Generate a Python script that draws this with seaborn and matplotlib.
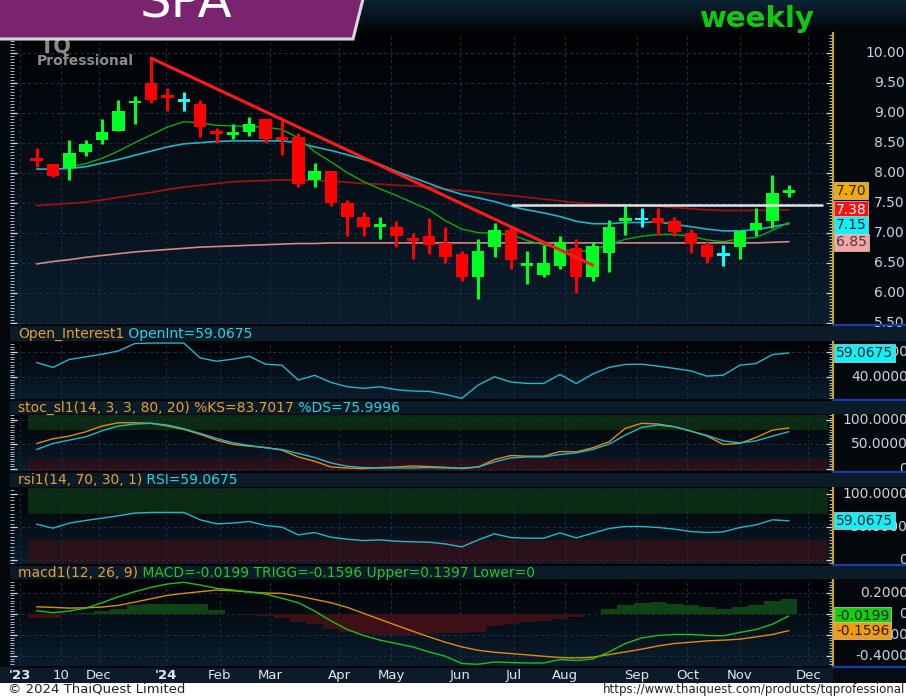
import numpy as np
import pandas as pd
import matplotlib
matplotlib.use('Agg')
import matplotlib.pyplot as plt
import matplotlib.transforms as mtransforms
import seaborn as sns
from matplotlib.patches import Rectangle, Polygon
from matplotlib.lines import Line2D
from matplotlib.ticker import MultipleLocator
from matplotlib.colors import LinearSegmentedColormap

# ---- data ----
opens = [8.23, 8.14, 8.07, 8.34, 8.545, 8.70, 9.17, 9.50, 9.28, 9.20, 9.145, 8.68, 8.63, 8.68, 8.89, 8.60,
         8.60, 7.88, 8.02, 7.49, 7.26, 7.11, 7.10, 6.91, 6.945, 6.83, 6.645, 6.26, 6.76, 7.045, 6.46, 6.295,
         6.45, 6.75, 6.26, 6.66, 7.21, 7.23, 7.25, 7.20, 7.00, 6.795, 6.64, 6.755, 7.045, 7.20, 7.68]
highs = [8.41, 8.14, 8.545, 8.545, 8.89, 9.21, 9.28, 9.91, 9.41, 9.35, 9.21, 8.74, 8.81, 8.93, 8.89, 8.91,
         8.66, 8.16, 8.02, 7.545, 7.35, 7.26, 7.20, 6.99, 7.25, 7.10, 6.70, 6.89, 7.155, 7.10, 6.70, 6.795,
         6.945, 6.89, 6.85, 7.21, 7.445, 7.41, 7.41, 7.26, 7.06, 6.85, 6.795, 7.03, 7.41, 7.96, 7.80]
lows = [8.10, 7.93, 7.88, 8.28, 8.48, 8.70, 8.81, 9.16, 9.02, 9.02, 8.60, 8.49, 8.56, 8.61, 8.50, 8.295,
        7.76, 7.76, 7.445, 6.945, 6.945, 6.895, 6.755, 6.56, 6.65, 6.50, 6.20, 5.89, 6.60, 6.39, 6.145, 6.26,
        6.39, 6.00, 6.20, 6.345, 6.96, 7.10, 6.96, 6.945, 6.66, 6.50, 6.445, 6.555, 6.945, 7.075, 7.60]
closes = [8.20, 7.94, 8.33, 8.47, 8.68, 9.02, 9.19, 9.21, 9.25, 9.20, 8.755, 8.65, 8.68, 8.81, 8.56, 8.55,
          7.81, 8.02, 7.50, 7.26, 7.10, 7.14, 6.95, 6.86, 6.80, 6.60, 6.26, 6.70, 7.045, 6.545, 6.49, 6.49,
          6.84, 6.26, 6.78, 7.10, 7.24, 7.23, 7.155, 7.005, 6.81, 6.60, 6.64, 7.03, 7.155, 7.655, 7.70]

ma_fast = [8.10, 8.15, 8.24, 8.36, 8.50, 8.63, 8.76, 8.85, 8.83, 8.79, 8.78, 8.77, 8.76, 8.72, 8.58,
           8.35, 8.18, 8.00, 7.85, 7.73, 7.62, 7.50, 7.38, 7.20, 7.06, 7.00, 6.99, 6.97, 6.87, 6.80,
           6.73, 6.68, 6.71, 6.80, 6.89, 6.94, 6.97, 6.97, 6.94, 6.88, 6.85, 6.90, 6.92, 7.04, 7.17]
ma_mid = [8.06, 8.06, 8.07, 8.10, 8.16, 8.22, 8.29, 8.36, 8.43, 8.48, 8.50, 8.52, 8.53, 8.53, 8.53, 8.53,
          8.50, 8.43, 8.37, 8.30, 8.22, 8.14, 8.02, 7.92, 7.82, 7.72, 7.64, 7.58, 7.52, 7.44, 7.38, 7.33,
          7.27, 7.19, 7.15, 7.15, 7.17, 7.17, 7.18, 7.14, 7.10, 7.06, 7.03, 7.03, 7.05, 7.10, 7.15]
ma_slow = [7.45, 7.47, 7.49, 7.51, 7.545, 7.59, 7.63, 7.67, 7.72, 7.76, 7.79, 7.82, 7.85, 7.86, 7.87, 7.88,
           7.88, 7.87, 7.86, 7.84, 7.82, 7.81, 7.79, 7.78, 7.76, 7.73, 7.70, 7.68, 7.645, 7.62, 7.59, 7.56,
           7.53, 7.50, 7.48, 7.47, 7.46, 7.45, 7.44, 7.42, 7.40, 7.38, 7.37, 7.37, 7.37, 7.38, 7.38]
ma_long = [6.48, 6.52, 6.55, 6.59, 6.62, 6.65, 6.68, 6.70, 6.72, 6.74, 6.76, 6.77, 6.78, 6.79, 6.80, 6.81,
           6.82, 6.82, 6.83, 6.83, 6.83, 6.83, 6.83, 6.83, 6.83, 6.83, 6.83, 6.83, 6.83, 6.83, 6.83, 6.83,
           6.83, 6.83, 6.83, 6.83, 6.83, 6.83, 6.83, 6.83, 6.83, 6.83, 6.83, 6.83, 6.83, 6.84, 6.85]

trend_x = [7, 34]
trend_y = [9.91, 6.46]
resist_x = [29.1, 48.0]
resist_y = [7.455, 7.455]

open_int = [51.6, 47.8, 54.0, 56.0, 58.1, 60.6, 66.4, 66.8, 66.8, 66.8, 55.2, 52.6, 54.2, 56.5, 50.3, 49.5,
            37.9, 41.6, 36.1, 32.7, 31.5, 32.7, 30.4, 29.4, 29.1, 26.8, 23.7, 34.0, 40.5, 36.4, 35.3, 35.3,
            42.3, 35.3, 42.6, 47.8, 50.1, 50.3, 48.8, 47.0, 45.1, 41.0, 41.8, 49.5, 50.9, 57.8, 59.07]
stoch_k = [51.8, 61.3, 66.9, 75.8, 87.6, 94.4, 94.4, 93.2, 87.6, 80.7, 70.4, 58.6, 49.7, 46.2, 43.5, 37.9,
           24.0, 15.1, 3.3, 1.2, 0.0, 2.1, 3.3, 5.4, 4.1, 2.7, 0.0, 3.3, 18.6, 26.9, 25.5, 25.5, 35.2, 34.4,
           42.7, 55.1, 82.8, 93.2, 91.7, 86.1, 77.2, 66.9, 49.7, 51.8, 64.2, 79.3, 83.7]
stoch_d = [39.3, 51.8, 58.6, 65.4, 77.8, 87.6, 91.7, 93.2, 89.6, 82.0, 72.5, 62.1, 53.0, 47.6, 42.7, 39.3,
           31.1, 22.8, 11.6, 4.8, 2.1, 1.2, 1.2, 1.2, 2.1, 1.2, 1.2, 3.3, 13.7, 22.0, 24.0, 24.0, 29.0, 32.3,
           39.3, 50.3, 68.9, 84.9, 89.6, 86.1, 77.2, 68.3, 57.1, 53.0, 57.1, 66.9, 76.0]
rsi = [54.0, 48.0, 55.6, 59.6, 63.1, 66.7, 70.7, 71.7, 71.7, 71.7, 60.6, 54.5, 55.6, 58.1, 52.0, 49.5,
       37.9, 41.4, 34.3, 31.3, 29.3, 30.3, 28.3, 27.3, 26.8, 24.2, 19.7, 30.3, 39.4, 33.8, 32.8, 32.8,
       40.9, 33.3, 40.4, 47.5, 50.5, 50.5, 49.0, 46.5, 42.9, 41.4, 42.4, 49.0, 53.0, 60.6, 59.07]
macd = [0.029, 0.010, 0.026, 0.054, 0.105, 0.162, 0.210, 0.251, 0.283, 0.299, 0.273, 0.242, 0.226, 0.207,
        0.188, 0.147, 0.105, 0.026, -0.067, -0.149, -0.206, -0.250, -0.282, -0.314, -0.362, -0.403,
        -0.472, -0.479, -0.457, -0.463, -0.467, -0.467, -0.434, -0.444, -0.429, -0.362, -0.282, -0.229,
        -0.206, -0.196, -0.196, -0.206, -0.209, -0.177, -0.149, -0.098, -0.0199]
trigg = [0.067, 0.061, 0.054, 0.057, 0.064, 0.080, 0.111, 0.143, 0.175, 0.194, 0.210, 0.226, 0.219, 0.207,
         0.197, 0.194, 0.169, 0.137, 0.105, 0.061, 0.004, -0.053, -0.110, -0.165, -0.219, -0.270, -0.314,
         -0.346, -0.365, -0.377, -0.390, -0.403, -0.415, -0.419, -0.412, -0.387, -0.362, -0.336, -0.305,
         -0.282, -0.270, -0.257, -0.250, -0.241, -0.219, -0.196, -0.1596]
macd_hist = [-0.04, -0.04, 0.0, 0.01, 0.03, 0.05, 0.08, 0.09, 0.09, 0.09, 0.09, 0.04, 0.0, -0.01, -0.02,
             -0.04, -0.08, -0.10, -0.14, -0.17, -0.19, -0.20, -0.20, -0.20, -0.19, -0.18, -0.18, -0.17,
             -0.12, -0.10, -0.08, -0.07, -0.05, -0.03, 0.0, 0.05, 0.08, 0.10, 0.11, 0.09, 0.08, 0.06, 0.05,
             0.06, 0.08, 0.12, 0.14]

month_pos = [-1.0, 1.5, 3.8, 7.9, 11.2, 14.3, 18.5, 21.7, 25.9, 29.2, 32.3, 36.7, 39.8, 43.0, 47.2]
month_labels = ["'23", "10", "Dec", "'24", "Feb", "Mar", "Apr", "May", "Jun", "Jul", "Aug", "Sep", "Oct",
                "Nov", "Dec"]

weeks = np.arange(len(closes))
df = pd.DataFrame({'week': weeks, 'mid': ma_mid, 'slow': ma_slow, 'long': ma_long,
                   'oi': open_int, 'k': stoch_k, 'd': stoch_d, 'rsi': rsi, 'macd': macd, 'trigg': trigg})
df_fast = pd.DataFrame({'week': weeks[2:], 'fast': ma_fast})

# ---- style ----
sns.set_theme(style='dark')
plt.rcParams['font.family'] = ['DejaVu Sans']
plt.rcParams['axes.unicode_minus'] = False

W, H = 906, 696
fig = plt.figure(figsize=(9.06, 6.96), dpi=100)
fig.patch.set_facecolor('#03080d')


def box(l, t, r, b):
    return [l / W, 1 - b / H, (r - l) / W, (b - t) / H]


def shade(rect, top, bottom, z=0):
    bg = fig.add_axes(rect, zorder=z)
    cmap = LinearSegmentedColormap.from_list('g', [top, bottom])
    bg.imshow(np.linspace(0, 1, 64).reshape(-1, 1), cmap=cmap, aspect='auto', extent=[0, 1, 0, 1])
    bg.axis('off')
    return bg


def fig_rect(l, t, r, b, color, z=0.5):
    fig.add_artist(Rectangle((l / W, 1 - b / H), (r - l) / W, (b - t) / H, transform=fig.transFigure,
                             facecolor=color, edgecolor='none', zorder=z))


XL, XR = 10, 833
panels = {'price': (33, 325), 'oi': (342, 400), 'st': (415, 472), 'rsi': (488, 565), 'macd': (580, 667)}

# top band
shade(box(0, 0, W, 33), '#0a2436', '#010305')
# header strips
for t, b in [(326, 341), (401, 414), (473, 487), (566, 579)]:
    fig_rect(XL, t, W, b, '#0b1b28')
# x-axis strip and footer
fig_rect(0, 667, XR, 683, '#0b1b2a')
fig_rect(XR, 667, W, 683, '#050c14')
fig_rect(0, 683, W, H, '#ffffff')

axes = {}
for name, (t, b) in panels.items():
    shade(box(XL, t, XR, b), '#000204', '#0b1d2d', z=0)
    ax = fig.add_axes(box(XL, t, XR, b), zorder=1)
    ax.patch.set_alpha(0)
    axes[name] = ax
    fig.add_artist(Line2D([XR / W, 1], [1 - b / H, 1 - b / H], transform=fig.transFigure,
                          color='#1a3cb0', lw=1.6, zorder=2))


def style_axis(ax, ylim, major, minor, labels, right_px=908):
    ax.set_xlim(-1.63, 48.7)
    ax.set_ylim(*ylim)
    ax.set_xticks(month_pos)
    ax.set_yticks(major)
    ax.yaxis.set_minor_locator(MultipleLocator(minor))
    ax.set_xlabel('')
    ax.set_ylabel('')
    ax.grid(True, which='major', color='#17324a', ls=(0, (3, 3)), lw=0.7)
    ax.tick_params(axis='x', which='both', bottom=False, top=False, labelbottom=False, length=0)
    ax.tick_params(axis='y', which='both', left=True, right=True, direction='in',
                   labelleft=False, labelright=False)
    ax.tick_params(axis='y', which='major', length=5, width=0.9, color='#d0d8e0')
    ax.tick_params(axis='y', which='minor', length=3, width=0.7, color='#a8b6c4')
    for s in ['left', 'top']:
        ax.spines[s].set_visible(False)
    ax.spines['bottom'].set_color('#000000')
    ax.spines['right'].set_color('#c9a12c')
    ax.spines['right'].set_linewidth(1.6)
    tr = mtransforms.blended_transform_factory(ax.transAxes, ax.transData)
    for v, s in zip(major, labels):
        ax.text((right_px - XL) / (XR - XL), v, s, transform=tr, ha='right', va='center',
                color='#c9d3df', fontsize=10, clip_on=False)


def tag(ax, v, s, fc, tc):
    tr = mtransforms.blended_transform_factory(ax.transAxes, ax.transData)
    ax.text((836 - XL) / (XR - XL), v, s, transform=tr, ha='left', va='center', color=tc, fontsize=10,
            clip_on=False, zorder=6,
            bbox=dict(boxstyle='square,pad=0.12', fc=fc, ec='#d0d0d0', lw=0.5))


# ---- price panel ----
ax = axes['price']
sns.lineplot(data=df, x='week', y='long', ax=ax, color='#d08888', lw=1.2, zorder=2)
sns.lineplot(data=df, x='week', y='slow', ax=ax, color='#9c1010', lw=1.3, zorder=2)
sns.lineplot(data=df, x='week', y='mid', ax=ax, color='#22b4c4', lw=1.2, zorder=2)
sns.lineplot(data=df_fast, x='week', y='fast', ax=ax, color='#12a812', lw=1.0, zorder=2)

o = np.array(opens)
c = np.array(closes)
cols = np.where(c > o, '#00ff22', np.where(c < o, '#ff0000', '#10ffff'))
ax.vlines(weeks, lows, highs, colors=cols, lw=2.2, zorder=3)
body_h = np.maximum(np.abs(c - o), 0.045)
ax.bar(weeks, body_h, bottom=(o + c) / 2 - body_h / 2, width=0.76, color=cols, edgecolor='none',
       linewidth=0, zorder=3)

sns.lineplot(x=trend_x, y=trend_y, ax=ax, color='#ff1a1a', lw=2.2, zorder=4)
sns.lineplot(x=resist_x, y=resist_y, ax=ax, color='#e4e4e4', lw=1.8, zorder=4)

price_ticks = [5.5, 6.0, 6.5, 7.0, 7.5, 8.0, 8.5, 9.0, 9.5, 10.0]
style_axis(ax, (5.462, 10.328), price_ticks, 0.05, ['%.2f' % v for v in price_ticks], right_px=905)
tag(ax, 7.70, '7.70', '#f2a900', '#202020')
tag(ax, 7.38, '7.38', '#ff1010', '#ffffff')
tag(ax, 7.13, '7.15', '#10f0f8', '#202020')
tag(ax, 6.84, '6.85', '#f4a4a4', '#404040')

# ---- open interest ----
ax = axes['oi']
sns.lineplot(data=df, x='week', y='oi', ax=ax, color='#22b8c8', lw=1.0)
style_axis(ax, (22.4, 67.6), [40, 60], 2, ['40.0000', '60.0000'])
tag(ax, 59.07, '59.0675', '#10f0f8', '#202020')

# ---- stochastic ----
ax = axes['st']
ax.axhspan(80, 115, xmin=0.022, xmax=0.994, color='#0b2a12', zorder=0.5, lw=0)
ax.axhspan(-10, 20, xmin=0.022, xmax=0.994, color='#2a1018', zorder=0.5, lw=0)
sns.lineplot(data=df, x='week', y='k', ax=ax, color='#e08a10', lw=1.0)
sns.lineplot(data=df, x='week', y='d', ax=ax, color='#22b8c8', lw=1.0)
style_axis(ax, (-7, 110.3), [0, 50, 100], 5, ['0', '50.0000', '100.0000'])

# ---- RSI ----
ax = axes['rsi']
ax.axhspan(70, 115, xmin=0.022, xmax=0.994, color='#0b2a12', zorder=0.5, lw=0)
ax.axhspan(-5, 30, xmin=0.022, xmax=0.994, color='#2a1018', zorder=0.5, lw=0)
sns.lineplot(data=df, x='week', y='rsi', ax=ax, color='#22b8c8', lw=1.0)
style_axis(ax, (-7.6, 108.6), [0, 50, 100], 5, ['0', '50.0000', '100.0000'])
tag(ax, 59.07, '59.0675', '#10f0f8', '#202020')

# ---- MACD ----
ax = axes['macd']
hist_cols = ['#0f4214' if h > 0 else '#3d1018' for h in macd_hist]
ax.bar(weeks, macd_hist, width=1.0, color=hist_cols, edgecolor='none', linewidth=0, zorder=1)
sns.lineplot(data=df, x='week', y='trigg', ax=ax, color='#e08a10', lw=1.0, zorder=3)
sns.lineplot(data=df, x='week', y='macd', ax=ax, color='#1cc01c', lw=1.0, zorder=3)
style_axis(ax, (-0.505, 0.321), [-0.4, -0.2, 0, 0.2], 0.025, ['-0.4000', '-0.2000', '0', '0.2000'])
tag(ax, -0.0199, '-0.0199', '#10d010', '#202020')
tag(ax, -0.1596, '-0.1596', '#f59a10', '#202020')

# month labels under the last panel, on the shared week scale
xtr = mtransforms.blended_transform_factory(ax.transData, ax.transAxes)
for pos, lab in zip(month_pos, month_labels):
    ax.text(pos, -8.5 / 87, lab, transform=xtr, ha='center', va='center', fontsize=9.5,
            color='#e0e8f0', fontweight='bold' if lab.startswith("'") else 'normal', clip_on=False)

# ---- texts ----
renderer = fig.canvas.get_renderer()


def header(y, parts):
    x = 18
    for s, col in parts:
        t = fig.text(x / W, 1 - y / H, s, color=col, fontsize=10, va='center', ha='left', zorder=11)
        x = t.get_window_extent(renderer=renderer).x1


ORG, CY, GR = '#e8a030', '#30d0e0', '#22c822'
header(334, [('Open_Interest1', ORG), (' OpenInt=59.0675', CY)])
header(408, [('stoc_sl1(14, 3, 3, 80, 20) %KS=83.7017', ORG), (' %DS=75.9996', CY)])
header(480, [('rsi1(14, 70, 30, 1)', ORG), (' RSI=59.0675', CY)])
header(573, [('macd1(12, 26, 9)', ORG), (' MACD=-0.0199 TRIGG=-0.1596 Upper=0.1397 Lower=0', GR)])

fig.text(757 / W, 1 - 19 / H, 'weekly', color='#12c712', fontsize=21, fontweight='bold',
         ha='center', va='center', zorder=11)

# logo
fig.text(40 / W, 1 - 47 / H, 'TQ', color='#8a8a8a', fontsize=15, fontweight='bold', va='center', zorder=9)
fig.text(37 / W, 1 - 61 / H, 'Professional', color='#8c8c8c', fontsize=10, fontweight='bold',
         va='center', zorder=9)

# title banner
pts = [(-5, -5), (364, -5), (353, 39), (-5, 39)]
fig.add_artist(Polygon([(x / W, 1 - y / H) for x, y in pts], closed=True, transform=fig.transFigure,
                       facecolor='#7a2470', edgecolor='#d8d8d8', lw=2.2, zorder=10))
fig.text(186 / W, 1 - 17 / H, 'SPA', color='#ffffff', fontsize=36, ha='center', va='baseline', zorder=11)

fig.text(8 / W, 1 - 689.5 / H, '\u00a9 2024 ThaiQuest Limited', color='#222222', fontsize=9.5,
         va='center', zorder=11)
fig.text(905 / W, 1 - 689.5 / H, 'https://www.thaiquest.com/products/tqprofessional', color='#222222',
         fontsize=8.5, ha='right', va='center', zorder=11)

fig.savefig('out.png', dpi=100, facecolor=fig.get_facecolor())
